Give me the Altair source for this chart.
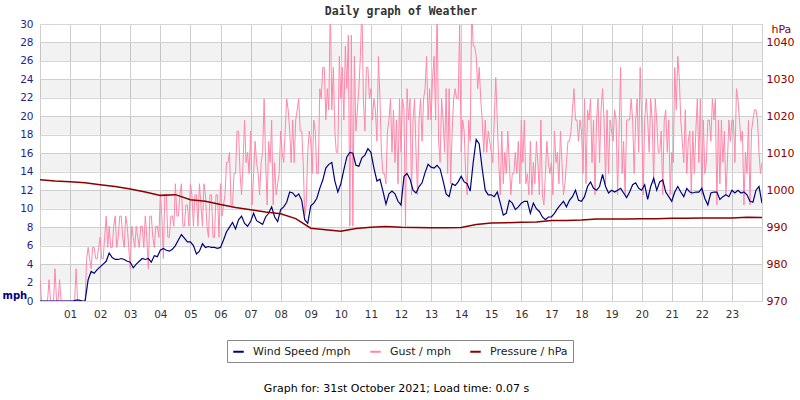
import altair as alt
import pandas as pd

# time stamps (minutes after midnight)
minutes = list(range(0, 1441, 6))        # wind speed samples
g_minutes = list(range(0, 1441, 3))      # gust samples
p_minutes = list(range(0, 1441, 30))     # pressure samples

wind = [
    0, 0, 0, 0, 0, 0, 0, 0, 0, 0,
    0, 0, 0.1, 0.1, 0, 0, 2.3, 3.2, 3.0, 3.4,
    3.7, 4.0, 4.3, 5.2, 4.7, 4.5, 4.5, 4.6, 4.5, 4.3,
    4.2, 3.6, 4.0, 4.3, 4.6, 4.5, 4.6, 4.2, 4.9, 4.8,
    5.5, 5.7, 5.5, 5.4, 5.6, 6.0, 6.6, 7.2, 6.8, 6.4,
    6.4, 6.0, 5.1, 5.4, 6.2, 5.8, 5.9, 5.8, 5.8, 5.7,
    5.8, 6.6, 7.5, 8.0, 8.5, 7.8, 8.8, 9.2, 8.4, 8.1,
    8.6, 9.5, 8.7, 8.5, 8.3, 9.1, 9.5, 10.2, 9.1, 8.6,
    9.9, 10.2, 10.7, 11.8, 11.7, 11.3, 11.6, 10.9, 8.8, 8.4,
    10.3, 10.6, 11.1, 12.2, 13.1, 14.4, 14.8, 15.0, 13.0, 11.8,
    12.7, 14.2, 15.6, 16.1, 16.0, 14.7, 14.6, 15.5, 15.8, 16.5,
    16.1, 14.4, 13.0, 13.2, 11.9, 10.5, 11.6, 11.9, 11.6, 10.8,
    10.4, 13.5, 13.8, 13.2, 12.0, 11.7, 12.4, 12.8, 13.9, 14.8,
    14.5, 14.4, 14.7, 14.3, 13.0, 11.6, 11.3, 12.7, 12.5, 12.9,
    13.5, 12.9, 12.7, 11.9, 15.0, 17.5, 17.0, 14.3, 12.0, 11.5,
    11.5, 11.3, 11.8, 10.6, 9.3, 9.5, 10.9, 10.6, 9.9, 10.2,
    10.6, 10.8, 10.8, 9.5, 10.6, 10.0, 9.7, 9.1, 8.8, 9.1,
    9.1, 9.5, 10.0, 10.4, 10.8, 10.2, 10.9, 11.3, 12.0, 10.9,
    10.8, 11.3, 12.4, 12.9, 12.2, 12.0, 12.4, 13.7, 12.4, 11.7,
    12.0, 11.8, 12.0, 12.2, 11.7, 11.2, 11.8, 12.6, 12.8, 12.2,
    12.0, 12.6, 11.0, 12.4, 13.3, 12.0, 12.9, 13.1, 11.8, 11.3,
    10.8, 11.8, 12.4, 11.8, 11.3, 12.2, 11.8, 11.7, 11.8, 11.8,
    12.2, 11.1, 10.4, 11.7, 11.8, 11.8, 11.0, 11.3, 11.5, 11.3,
    12.0, 11.7, 12.0, 11.7, 11.8, 11.5, 10.8, 10.7, 12.0, 12.4,
    10.6,
]

gust = [
    2.3, 0, 0, 0, 0, 0, 2.3, 0, 0, 0, 3.5, 0, 0, 2.3, 0, 0, 0, 0, 0, 0,
    0, 0, 0, 0, 3.5, 0, 0, 0, 0, 0, 0, 4.6, 5.8, 4.6, 3.5, 5.8, 5.8, 4.6, 4.6, 5.8,
    6.9, 4.6, 4.6, 6.9, 9.2, 5.8, 8.1, 5.8, 5.8, 8.1, 9.2, 5.8, 6.9, 9.2, 9.2, 6.9, 5.8, 9.2, 8.1, 5.8,
    3.5, 8.1, 6.9, 5.8, 8.1, 6.9, 5.8, 8.1, 8.1, 5.8, 9.2, 6.9, 3.5, 9.2, 9.2, 6.9, 5.8, 8.1, 8.1, 6.9,
    11.5, 9.2, 4.6, 11.5, 11.5, 6.9, 6.9, 9.2, 9.2, 8.1, 12.7, 9.2, 9.2, 11.5, 12.7, 8.1, 8.1, 10.4, 10.4, 8.1,
    12.7, 11.5, 8.1, 11.5, 11.5, 8.1, 12.7, 10.4, 8.1, 12.7, 11.5, 8.1, 6.9, 11.5, 11.5, 6.9, 6.9, 11.5, 11.5, 6.9,
    12.7, 9.2, 10.4, 11.5, 15.0, 15.0, 16.1, 10.4, 10.4, 13.8, 13.8, 18.4, 18.4, 13.8, 11.5, 15.0, 19.6, 15.0, 16.1, 13.8,
    18.4, 10.4, 13.8, 17.3, 15.0, 13.8, 11.5, 15.0, 16.1, 21.9, 15.0, 10.4, 17.3, 15.0, 19.6, 10.4, 15.0, 11.5, 12.7, 13.8,
    18.4, 16.1, 15.0, 18.4, 21.9, 20.7, 18.4, 15.0, 19.6, 15.0, 19.6, 20.7, 21.9, 18.4, 18.4, 15.0, 9.2, 10.4, 16.1, 18.4,
    17.3, 13.8, 19.6, 18.4, 13.8, 13.8, 23.0, 21.9, 25.3, 25.3, 19.6, 23.0, 20.7, 32.2, 20.7, 25.3, 18.4, 16.1, 16.1, 26.5,
    21.9, 25.3, 19.6, 27.6, 23.0, 28.8, 8.1, 28.8, 8.1, 26.5, 18.4, 20.7, 23.0, 26.5, 32.2, 21.9, 18.4, 25.3, 25.3, 21.9,
    23.0, 19.6, 21.9, 20.7, 17.3, 26.5, 21.9, 16.1, 13.8, 13.8, 12.7, 18.4, 19.6, 21.9, 16.1, 20.7, 15.0, 19.6, 12.7, 21.9,
    16.1, 21.9, 20.7, 8.1, 23.0, 19.6, 21.9, 11.5, 19.6, 21.9, 16.1, 11.5, 19.6, 21.9, 17.3, 21.9, 23.0, 26.5, 19.6, 23.0,
    19.6, 24.2, 26.5, 19.6, 32.2, 17.3, 15.0, 21.9, 19.6, 16.1, 23.0, 13.8, 23.0, 12.7, 18.4, 21.9, 23.0, 21.9, 21.9, 29.9,
    16.1, 19.6, 18.4, 13.8, 11.5, 19.6, 17.3, 32.2, 27.6, 27.6, 26.5, 23.0, 25.3, 21.9, 19.6, 16.1, 19.6, 16.1, 18.4, 17.3,
    16.1, 15.0, 19.6, 24.2, 19.6, 15.0, 11.5, 18.4, 12.7, 16.1, 13.8, 18.4, 15.0, 11.5, 13.8, 13.8, 16.1, 13.8, 17.3, 12.7,
    19.6, 15.0, 19.6, 12.7, 13.8, 11.5, 17.3, 11.5, 15.0, 12.7, 17.3, 15.0, 11.5, 19.6, 11.5, 10.4, 13.8, 17.3, 15.0, 13.8,
    15.0, 11.5, 18.4, 15.0, 16.1, 12.7, 18.4, 15.0, 11.5, 12.7, 15.0, 17.3, 17.3, 18.4, 20.7, 23.0, 19.6, 19.6, 17.3, 19.6,
    18.4, 13.8, 21.9, 12.7, 20.7, 19.6, 21.9, 15.0, 19.6, 11.5, 19.6, 21.9, 15.0, 20.7, 23.0, 19.6, 12.7, 20.7, 13.8, 19.6,
    18.4, 17.3, 20.7, 19.6, 11.5, 18.4, 25.3, 13.8, 17.3, 11.5, 19.6, 19.6, 19.6, 21.9, 19.6, 13.8, 19.6, 21.9, 16.1, 25.3,
    19.6, 11.5, 19.6, 21.9, 19.6, 16.1, 21.9, 19.6, 12.7, 21.9, 19.6, 16.1, 16.1, 18.4, 11.5, 19.6, 20.7, 16.1, 19.6, 11.5,
    16.1, 15.0, 25.3, 20.7, 26.5, 24.2, 19.6, 17.3, 15.0, 20.7, 13.8, 17.3, 18.4, 11.5, 18.4, 13.8, 18.4, 21.9, 15.0, 21.9,
    11.5, 19.6, 13.8, 15.0, 19.6, 19.6, 17.3, 21.9, 19.6, 21.9, 10.4, 19.6, 12.7, 19.6, 15.0, 18.4, 11.5, 15.0, 19.6, 17.3,
    19.6, 19.6, 15.0, 23.0, 21.9, 19.6, 17.3, 18.4, 10.4, 16.1, 13.8, 19.6, 10.4, 18.4, 19.6, 20.7, 20.7, 19.6, 16.1, 13.8,
    15.0,
]

pressure = [
    1002.8, 1002.5, 1002.3, 1002.0, 1001.5, 1001.0, 1000.3, 999.5, 998.6, 998.8,
    997.4, 997.0, 996.1, 995.3, 994.7, 994.1, 993.6, 992.3, 989.7, 989.3,
    988.9, 989.6, 990.0, 990.2, 990.0, 989.9, 989.8, 989.8, 989.9, 990.7,
    991.1, 991.2, 991.3, 991.4, 991.8, 991.8, 991.9, 992.2, 992.2, 992.2,
    992.3, 992.3, 992.4, 992.4, 992.5, 992.5, 992.5, 992.7, 992.6,
]

series_names = ["Wind Speed /mph", "Gust / mph", "Pressure / hPa"]
series_colors = ["#000080", "#ff88aa", "#8b0000"]

band_lo = [2, 6, 10, 14, 18, 22, 26]
band_hi = [4, 8, 12, 16, 20, 24, 28]

left_ticks = list(range(0, 31, 2))
right_ticks = list(range(970, 1041, 10))
hour_ticks = list(range(0, 25))

title_text = "Daily graph of Weather"
footer_text = "Graph for: 31st October 2021; Load time: 0.07 s"

df_w = pd.DataFrame({"hour": [m / 60 for m in minutes], "value": wind, "series": series_names[0]})
df_g = pd.DataFrame({"hour": [m / 60 for m in g_minutes], "value": gust, "series": series_names[1]})
df_p = pd.DataFrame({"hour": [m / 60 for m in p_minutes], "value": pressure, "series": series_names[2]})
df_b = pd.DataFrame({"lo": band_lo, "hi": band_hi})

FONT = "DejaVu Sans"

x_axis = alt.Axis(
    values=hour_ticks,
    labelExpr="datum.value > 0 && datum.value < 24 ? (datum.value < 10 ? '0' : '') + datum.value : ''",
    labelOverlap=False, labelFlush=False,
    grid=True, gridColor="#cfcfcf", ticks=False, domain=False,
    labelFont=FONT, labelFontSize=10.5, labelColor="#333333", labelPadding=8,
    title=footer_text, titleFont=FONT, titleFontSize=11, titleFontWeight="normal",
    titleColor="#000000", titleY=87, titleX=356, titleBaseline="middle",
)
x_scale = alt.Scale(domain=[0, 24], nice=False, zero=False)

left_axis = alt.Axis(
    values=left_ticks, labelOverlap=False, grid=True, gridColor="#d6d6d6", ticks=False, domain=False,
    labelFont=FONT, labelFontSize=10.5, labelColor="#1f1f8f", labelPadding=7,
    title="mph", titleAngle=0, titleAlign="left", titleBaseline="middle",
    titleX=-38, titleY=271, titleFont=FONT, titleFontSize=10, titleFontWeight="bold",
    titleColor="#000080",
)
left_scale = alt.Scale(domain=[0, 30], nice=False, zero=True)

right_axis = alt.Axis(
    orient="right", values=right_ticks, format="d", labelOverlap=False,
    grid=False, ticks=False, domain=False,
    labelFont=FONT, labelFontSize=11, labelColor="#8b0000", labelPadding=4,
    title="hPa", titleAngle=0, titleAlign="left", titleBaseline="middle",
    titleX=9, titleY=5, titleFont=FONT, titleFontSize=11, titleFontWeight="normal",
    titleColor="#8b0000",
)
right_scale = alt.Scale(domain=[970, 1045], nice=False, zero=False)

color = alt.Color(
    "series:N",
    scale=alt.Scale(domain=series_names, range=series_colors),
    legend=alt.Legend(
        title=None, orient="none", legendX=187, legendY=316, direction="horizontal",
        strokeColor="#888888", fillColor="white", padding=5,
        labelFont=FONT, labelFontSize=11, labelColor="#222222",
        symbolType="stroke", symbolStrokeWidth=2, symbolSize=110,
        labelOffset=8, columnPadding=15,
    ),
)

bands = alt.Chart(df_b).mark_rect(color="#000000", opacity=0.05).encode(
    x=alt.XDatum(0, scale=x_scale, axis=x_axis), x2=alt.X2Datum(24),
    y=alt.Y("lo:Q", scale=left_scale, axis=left_axis), y2="hi:Q",
)

gust_line = alt.Chart(df_g).mark_line(strokeWidth=1, clip=True).encode(
    x=alt.X("hour:Q", scale=x_scale, axis=x_axis),
    y=alt.Y("value:Q", scale=left_scale, axis=left_axis),
    color=color,
)

wind_line = alt.Chart(df_w).mark_line(strokeWidth=1.2, clip=True).encode(
    x=alt.X("hour:Q", scale=x_scale, axis=x_axis),
    y=alt.Y("value:Q", scale=left_scale, axis=left_axis),
    color=color,
)

press_line = alt.Chart(df_p).mark_line(strokeWidth=1.5, clip=True).encode(
    x=alt.X("hour:Q", scale=x_scale, axis=x_axis),
    y=alt.Y("value:Q", scale=right_scale, axis=right_axis),
    color=color,
)

left = alt.layer(bands, gust_line, wind_line)

chart = alt.layer(left, press_line).resolve_scale(y="independent").properties(
    width=722, height=277,
    autosize=alt.AutoSizeParams(type="none"),
    padding={"left": 40, "top": 24, "right": 38, "bottom": 99},
    title=alt.TitleParams(
        title_text, font="DejaVu Sans Mono", fontSize=11.5, fontWeight="bold",
        color="#333333", anchor="middle", frame="group", baseline="alphabetic",
        offset=8, dy=15,
    ),
).configure_view(stroke="#cccccc", strokeWidth=1).configure(font=FONT)

chart.save("out.html", embed_options={"renderer": "svg", "actions": False})
